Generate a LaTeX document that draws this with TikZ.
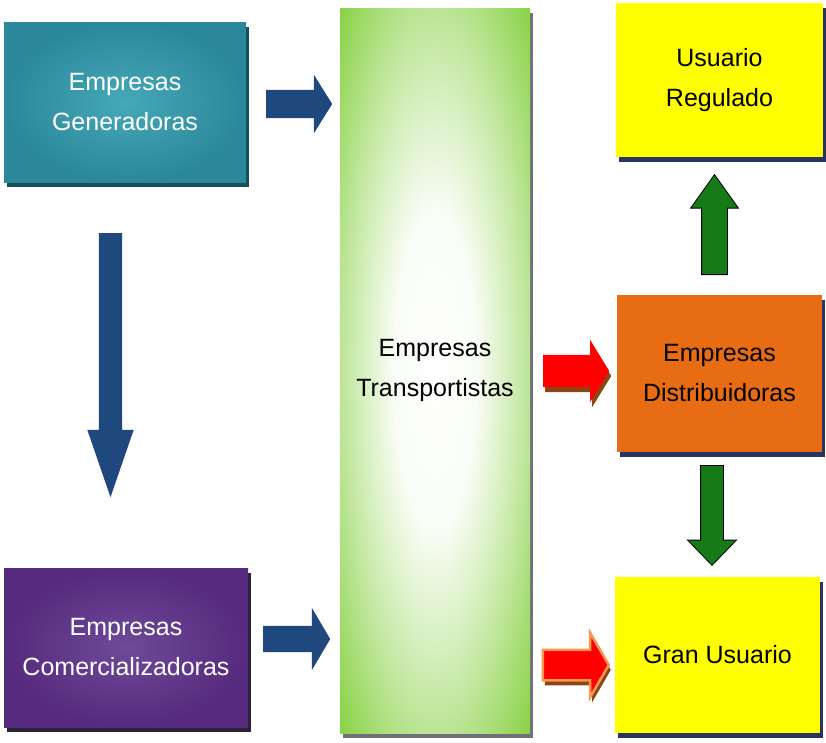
\documentclass[tikz,border=0pt]{standalone}
\usepackage{fontspec}
\setmainfont{Liberation Sans}
\usetikzlibrary{shapes.arrows,shadows}

\definecolor{genteal}{RGB}{42,136,154}
\definecolor{genlight}{RGB}{70,168,184}
\definecolor{genshadow}{RGB}{22,78,92}
\definecolor{compurple}{RGB}{86,42,126}
\definecolor{comlight}{RGB}{110,74,152}
\definecolor{comshadow}{RGB}{44,34,56}
\definecolor{transgreen}{RGB}{138,210,72}
\definecolor{distorange}{RGB}{232,108,20}
\definecolor{useryellow}{RGB}{255,255,0}
\definecolor{navyshadow}{RGB}{40,52,100}
\definecolor{greyshadow}{RGB}{112,112,122}
\definecolor{arrowblue}{RGB}{31,73,126}
\definecolor{arrowgreen}{RGB}{22,122,22}
\definecolor{redshadow}{RGB}{140,70,20}
\definecolor{redrim}{RGB}{244,150,80}

% white glow in the middle of the tall column
\pgfdeclareradialshading{glow}{\pgfpoint{0bp}{0bp}}{%
  color(0bp)=(white); color(11bp)=(white!95!transgreen);
  color(23bp)=(white!50!transgreen); color(35bp)=(transgreen);
  color(50bp)=(transgreen)}

\tikzset{
  box/.style={rectangle, inner sep=0pt, align=center,
    font=\fontsize{25}{40}\selectfont},
  boxshadow/.style={drop shadow={shadow xshift=3pt, shadow yshift=-5pt,
    fill=#1, opacity=1}},
  arrowbase/.style={single arrow, single arrow head indent=0pt, inner sep=0pt,
    anchor=tail},
  bluearrow/.style={arrowbase, fill=arrowblue},
  greenarrow/.style={arrowbase, fill=arrowgreen, draw=black, line width=0.8pt},
  redarrow/.style={arrowbase, fill=red, drop shadow={shadow xshift=2pt,
    shadow yshift=-5pt, fill=redshadow, opacity=1}},
}

\begin{document}
\begin{tikzpicture}[x=1pt,y=-1pt]
  \useasboundingbox (0,0) rectangle (826,742);

  % the companies
  \node[box, boxshadow=genshadow, inner color=genlight, outer color=genteal,
    text=white, minimum width=242pt, minimum height=160pt]
    (gen) at (125,102) {Empresas\\Generadoras};
  \node[box, boxshadow=comshadow, inner color=comlight, outer color=compurple,
    text=white, minimum width=244pt, minimum height=159pt]
    (com) at (126,647.5) {Empresas\\Comercializadoras};
  \node[box, boxshadow=greyshadow, shade, shading=glow,
    minimum width=190pt, minimum height=725pt]
    (trans) at (435,370.5) {Empresas\\Transportistas};
  \node[box, boxshadow=navyshadow, fill=distorange,
    minimum width=205pt, minimum height=157pt]
    (dist) at (719.5,373.5) {Empresas\\Distribuidoras};
  \node[box, boxshadow=navyshadow, fill=useryellow,
    minimum width=207pt, minimum height=154pt]
    (reg) at (719.5,80) {Usuario\\Regulado};
  \node[box, boxshadow=navyshadow, fill=useryellow,
    minimum width=205pt, minimum height=156pt]
    (gran) at (717.5,655) {Gran Usuario};

  % block arrows between them, placed by their tails
  \node[bluearrow, minimum height=66pt, inner sep=14pt,
    single arrow head extend=15pt, single arrow tip angle=116]
    (gen-trans) at (266,104) {};
  \node[bluearrow, minimum height=67pt, inner sep=13pt,
    single arrow head extend=18pt, single arrow tip angle=119]
    (com-trans) at (263,639) {};
  \node[bluearrow, shape border rotate=270, minimum height=264pt,
    inner sep=11.5pt, single arrow head extend=11.5pt,
    single arrow tip angle=38] (gen-com) at (110.5,233) {};
  \node[redarrow, minimum height=66pt, inner sep=16pt,
    single arrow head extend=15pt, single arrow tip angle=117]
    (trans-dist) at (543,371) {};
  \node[redarrow, draw=redrim, line width=2.5pt, minimum height=66pt,
    inner sep=14pt, single arrow head extend=17pt,
    single arrow tip angle=120] (trans-gran) at (541.5,665) {};
  \node[greenarrow, shape border rotate=90, minimum height=100pt,
    inner sep=12.5pt, single arrow head extend=11pt,
    single arrow tip angle=71] (dist-reg) at (714.5,275) {};
  \node[greenarrow, shape border rotate=270, minimum height=100pt,
    inner sep=11pt, single arrow head extend=13pt,
    single arrow tip angle=88] (dist-gran) at (712,465) {};
\end{tikzpicture}
\end{document}
